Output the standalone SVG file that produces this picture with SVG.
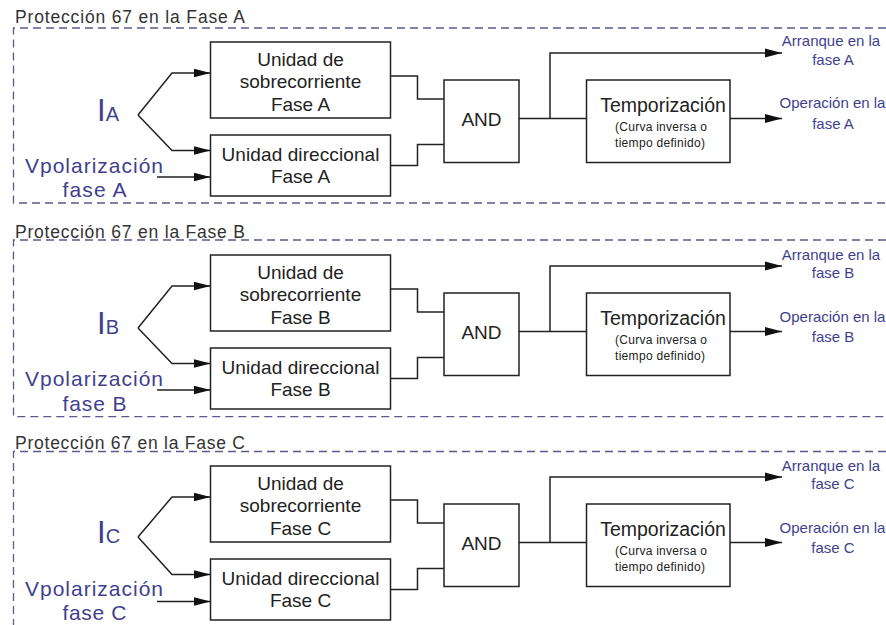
<svg xmlns="http://www.w3.org/2000/svg" width="886" height="625" viewBox="0 0 886 625">
  <defs>
    <style>
      .box{fill:#ffffff;stroke:#222222;stroke-width:1.5}
      .wire{fill:none;stroke:#222222;stroke-width:1.5}
      .arr{marker-end:url(#head)}
      .frame{fill:none;stroke:#5a5a8c;stroke-width:1.3;stroke-dasharray:8 5}
      .t{font-family:"Liberation Sans",Arial,sans-serif;fill:#222222;text-anchor:middle}
      .title{font-family:"Liberation Sans",Arial,sans-serif;fill:#333333;font-size:17.5px}
      .unit{font-size:19px}
      .small{font-size:12px}
      .out{font-family:"Liberation Sans",Arial,sans-serif;fill:#3f3f8f;font-size:15px;text-anchor:middle}
      .inp{font-family:"Liberation Sans",Arial,sans-serif;fill:#3f3f8f;font-size:21px;text-anchor:middle}
      .cur{font-family:"Liberation Sans",Arial,sans-serif;fill:#3f3f8f}
    </style>
    <marker id="head" markerUnits="userSpaceOnUse" markerWidth="17" markerHeight="10" refX="17" refY="5" orient="auto">
      <path d="M0,0.5 L17,5 L0,9.5 Z" fill="#111111"/>
    </marker>
  </defs>
  <rect width="886" height="625" fill="#ffffff"/>

  <!-- dashed frames and titles of the three phases -->
  <g id="frames">
    <path class="frame" d="M886,28 H13.5 V203 H886"/>
    <text class="title" x="15" y="22.7" textLength="230" lengthAdjust="spacing">Protección 67 en la Fase A</text>
    <path class="frame" d="M886,240 H13.5 V416.7 H886"/>
    <text class="title" x="15" y="237.7" textLength="230" lengthAdjust="spacing">Protección 67 en la Fase B</text>
    <path class="frame" d="M886,451.5 H13.5 V625"/>
    <text class="title" x="15" y="449.3" textLength="230" lengthAdjust="spacing">Protección 67 en la Fase C</text>
  </g>

  <!-- Phase A -->
  <g id="phase-a">
    <g id="connectors-a">
      <polyline class="wire arr" points="138,115 172,73 210.5,73"/>
      <polyline class="wire arr" points="138,115 172,150.5 210.5,150.5"/>
      <line class="wire arr" x1="157" y1="177" x2="210.5" y2="177"/>
      <polyline class="wire" points="390.5,76 417.5,76 417.5,99 444,99"/>
      <polyline class="wire" points="390.5,165.5 417.5,165.5 417.5,144.5 444,144.5"/>
      <line class="wire" x1="519" y1="118.5" x2="586.5" y2="118.5"/>
      <polyline class="wire arr" points="550,118.5 550,53 782,53"/>
      <line class="wire arr" x1="730" y1="118.5" x2="782" y2="118.5"/>
    </g>
    <g id="ia">
      <text class="cur" x="97" y="120.5"><tspan font-size="31">I</tspan><tspan font-size="20">A</tspan></text>
    </g>
    <g id="vpol-a">
      <text class="inp" x="94" y="172.5" textLength="138" lengthAdjust="spacing">Vpolarización</text>
      <text class="inp" x="94.5" y="197" textLength="64" lengthAdjust="spacing">fase A</text>
    </g>
    <g id="sobrecorriente-a">
      <rect class="box" x="210.5" y="42" width="180" height="76"/>
      <text class="t unit" x="300.5" y="66">Unidad de</text>
      <text class="t unit" x="300.5" y="88.3">sobrecorriente</text>
      <text class="t unit" x="300.5" y="110.7">Fase A</text>
    </g>
    <g id="direccional-a">
      <rect class="box" x="210.5" y="135" width="180" height="61"/>
      <text class="t unit" x="300.5" y="160.7" textLength="158" lengthAdjust="spacing">Unidad direccional</text>
      <text class="t unit" x="300.5" y="183.3">Fase A</text>
    </g>
    <g id="and-a">
      <rect class="box" x="444" y="80" width="75" height="82.5"/>
      <text class="t" x="481.5" y="125.7" font-size="19">AND</text>
    </g>
    <g id="temporizacion-a">
      <rect class="box" x="586.5" y="80" width="143.5" height="82.5"/>
      <text class="t" x="663" y="112.3" font-size="19.5">Temporización</text>
      <text class="t small" x="661" y="131" textLength="92" lengthAdjust="spacing">(Curva inversa o</text>
      <text class="t small" x="660" y="147" textLength="90" lengthAdjust="spacing">tiempo definido)</text>
    </g>
    <g id="arranque-a">
      <text class="out" x="831" y="46">Arranque en la</text>
      <text class="out" x="833" y="64.5">fase A</text>
    </g>
    <g id="operacion-a">
      <text class="out" x="832.5" y="108">Operación en la</text>
      <text class="out" x="833" y="128.5">fase A</text>
    </g>
  </g>

  <!-- Phase B -->
  <g id="phase-b" transform="translate(0,213)">
    <g id="connectors-b">
      <polyline class="wire arr" points="138,115 172,73 210.5,73"/>
      <polyline class="wire arr" points="138,115 172,150.5 210.5,150.5"/>
      <line class="wire arr" x1="157" y1="177" x2="210.5" y2="177"/>
      <polyline class="wire" points="390.5,76 417.5,76 417.5,99 444,99"/>
      <polyline class="wire" points="390.5,165.5 417.5,165.5 417.5,144.5 444,144.5"/>
      <line class="wire" x1="519" y1="118.5" x2="586.5" y2="118.5"/>
      <polyline class="wire arr" points="550,118.5 550,53 782,53"/>
      <line class="wire arr" x1="730" y1="118.5" x2="782" y2="118.5"/>
    </g>
    <g id="ib">
      <text class="cur" x="97" y="121"><tspan font-size="31">I</tspan><tspan font-size="20">B</tspan></text>
    </g>
    <g id="vpol-b">
      <text class="inp" x="94" y="173" textLength="138" lengthAdjust="spacing">Vpolarización</text>
      <text class="inp" x="94.5" y="198" textLength="64" lengthAdjust="spacing">fase B</text>
    </g>
    <g id="sobrecorriente-b">
      <rect class="box" x="210.5" y="42" width="180" height="76"/>
      <text class="t unit" x="300.5" y="66">Unidad de</text>
      <text class="t unit" x="300.5" y="88.3">sobrecorriente</text>
      <text class="t unit" x="300.5" y="110.7">Fase B</text>
    </g>
    <g id="direccional-b">
      <rect class="box" x="210.5" y="135" width="180" height="61"/>
      <text class="t unit" x="300.5" y="160.7" textLength="158" lengthAdjust="spacing">Unidad direccional</text>
      <text class="t unit" x="300.5" y="183.3">Fase B</text>
    </g>
    <g id="and-b">
      <rect class="box" x="444" y="80" width="75" height="82.5"/>
      <text class="t" x="481.5" y="125.7" font-size="19">AND</text>
    </g>
    <g id="temporizacion-b">
      <rect class="box" x="586.5" y="80" width="143.5" height="82.5"/>
      <text class="t" x="663" y="112.3" font-size="19.5">Temporización</text>
      <text class="t small" x="661" y="131" textLength="92" lengthAdjust="spacing">(Curva inversa o</text>
      <text class="t small" x="660" y="147" textLength="90" lengthAdjust="spacing">tiempo definido)</text>
    </g>
    <g id="arranque-b">
      <text class="out" x="831" y="47">Arranque en la</text>
      <text class="out" x="833" y="65">fase B</text>
    </g>
    <g id="operacion-b">
      <text class="out" x="832.5" y="109">Operación en la</text>
      <text class="out" x="833" y="129">fase B</text>
    </g>
  </g>

  <!-- Phase C -->
  <g id="phase-c" transform="translate(0,424)">
    <g id="connectors-c">
      <polyline class="wire arr" points="138,113 172,73 210.5,73"/>
      <polyline class="wire arr" points="138,113 172,150.5 210.5,150.5"/>
      <line class="wire arr" x1="157" y1="177.5" x2="210.5" y2="177.5"/>
      <polyline class="wire" points="390.5,76 417.5,76 417.5,99 444,99"/>
      <polyline class="wire" points="390.5,165.5 417.5,165.5 417.5,144.5 444,144.5"/>
      <line class="wire" x1="519" y1="118.5" x2="586.5" y2="118.5"/>
      <polyline class="wire arr" points="550,118.5 550,53 782,53"/>
      <line class="wire arr" x1="730" y1="118.5" x2="782" y2="118.5"/>
    </g>
    <g id="ic">
      <text class="cur" x="97" y="118.5"><tspan font-size="31">I</tspan><tspan font-size="20">C</tspan></text>
    </g>
    <g id="vpol-c">
      <text class="inp" x="94" y="171.5" textLength="138" lengthAdjust="spacing">Vpolarización</text>
      <text class="inp" x="94.5" y="196" textLength="64" lengthAdjust="spacing">fase C</text>
    </g>
    <g id="sobrecorriente-c">
      <rect class="box" x="210.5" y="42" width="180" height="76"/>
      <text class="t unit" x="300.5" y="66">Unidad de</text>
      <text class="t unit" x="300.5" y="88.3">sobrecorriente</text>
      <text class="t unit" x="300.5" y="110.7">Fase C</text>
    </g>
    <g id="direccional-c">
      <rect class="box" x="210.5" y="135" width="180" height="61"/>
      <text class="t unit" x="300.5" y="160.7" textLength="158" lengthAdjust="spacing">Unidad direccional</text>
      <text class="t unit" x="300.5" y="183.3">Fase C</text>
    </g>
    <g id="and-c">
      <rect class="box" x="444" y="80" width="75" height="82.5"/>
      <text class="t" x="481.5" y="125.7" font-size="19">AND</text>
    </g>
    <g id="temporizacion-c">
      <rect class="box" x="586.5" y="80" width="143.5" height="82.5"/>
      <text class="t" x="663" y="112.3" font-size="19.5">Temporización</text>
      <text class="t small" x="661" y="131" textLength="92" lengthAdjust="spacing">(Curva inversa o</text>
      <text class="t small" x="660" y="147" textLength="90" lengthAdjust="spacing">tiempo definido)</text>
    </g>
    <g id="arranque-c">
      <text class="out" x="831" y="47">Arranque en la</text>
      <text class="out" x="833" y="65">fase C</text>
    </g>
    <g id="operacion-c">
      <text class="out" x="832.5" y="109">Operación en la</text>
      <text class="out" x="833" y="129">fase C</text>
    </g>
  </g>
</svg>
